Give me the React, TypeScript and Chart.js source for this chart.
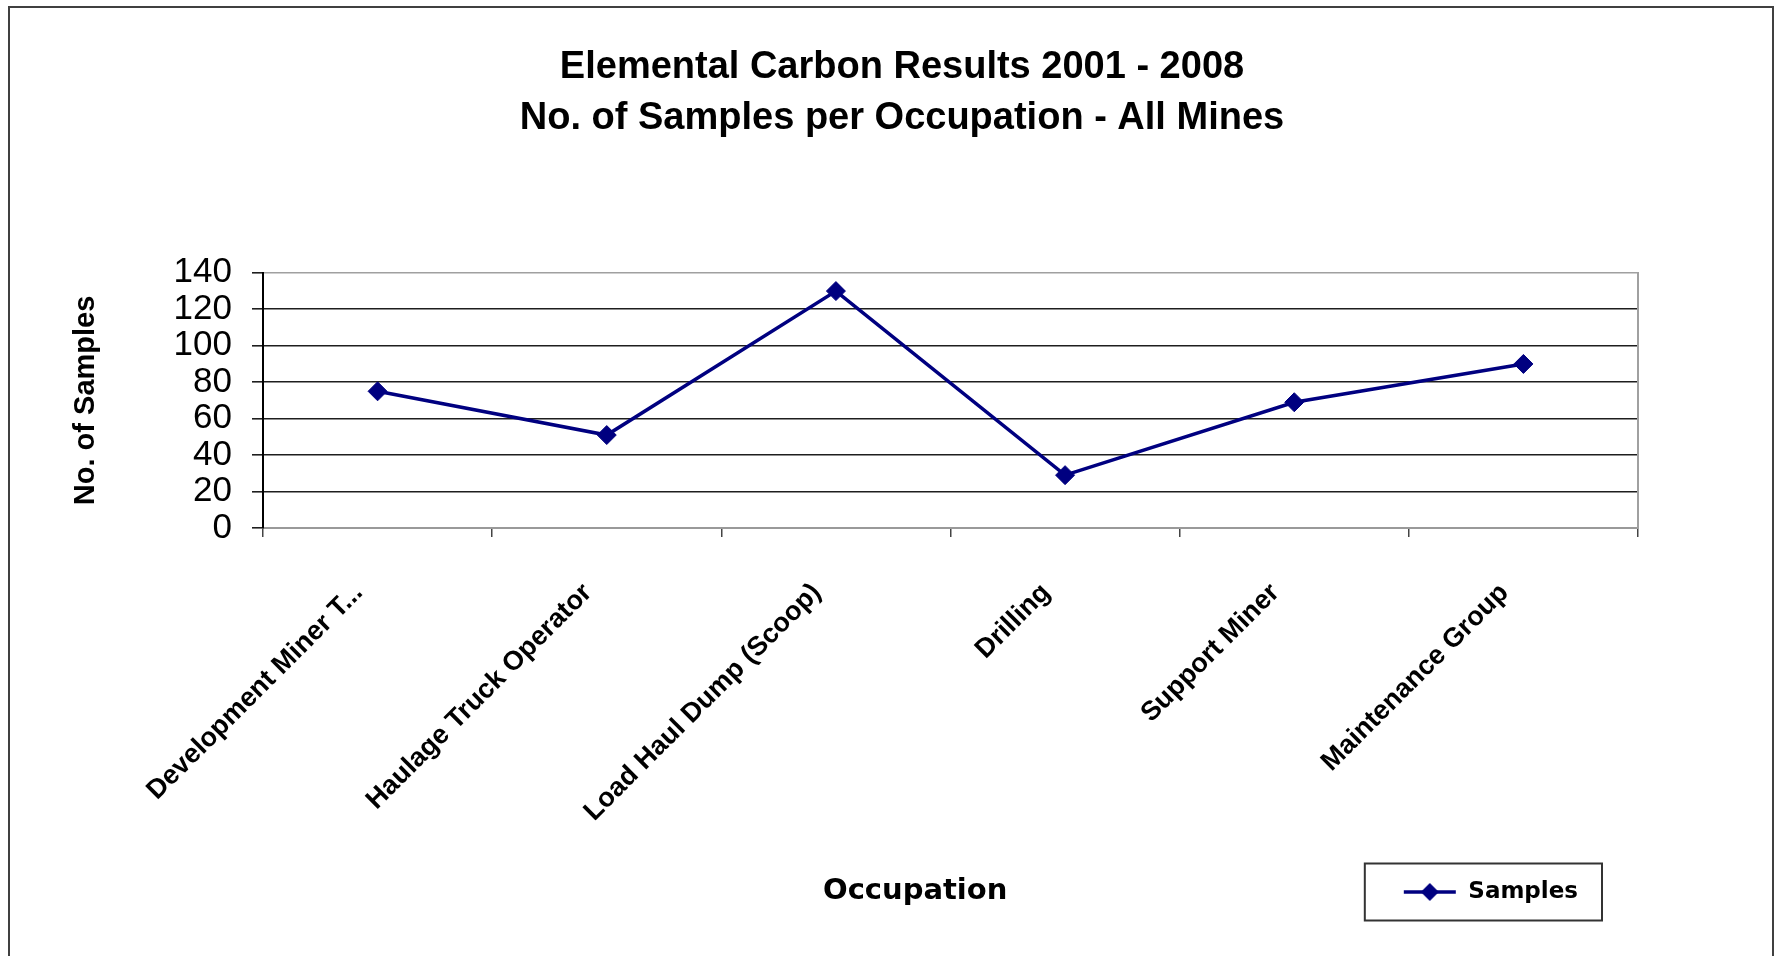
import React, { useEffect, useRef } from 'react';
import { Chart, registerables } from 'chart.js';

Chart.register(...registerables);

const categories = [
  'Development Miner T...',
  'Haulage Truck Operator',
  'Load Haul Dump (Scoop)',
  'Drilling',
  'Support Miner',
  'Maintenance Group',
];
const samples = [75, 51, 130, 29, 69, 90];
const yTickValues = [0, 20, 40, 60, 80, 100, 120, 140];
const titleLines = ['Elemental Carbon Results 2001 - 2008', 'No. of Samples per Occupation - All Mines'];
const seriesName = 'Samples';
const xTitle = 'Occupation';
const yTitle = 'No. of Samples';

const NAVY = '#000080';

function makeLegendMarker(): HTMLCanvasElement {
  const c = document.createElement('canvas');
  c.width = 54;
  c.height = 22;
  const g = c.getContext('2d')!;
  g.strokeStyle = NAVY;
  g.lineWidth = 3.5;
  g.beginPath();
  g.moveTo(1, 11);
  g.lineTo(53, 11);
  g.stroke();
  g.fillStyle = NAVY;
  g.beginPath();
  g.moveTo(27, 2);
  g.lineTo(36, 11);
  g.lineTo(27, 20);
  g.lineTo(18, 11);
  g.closePath();
  g.fill();
  return c;
}

const legendBoxPlugin = {
  id: 'legendBox',
  afterDraw(chart: any) {
    const lg = chart.legend;
    if (!lg || !lg.legendHitBoxes || !lg.legendHitBoxes.length) return;
    const hb = lg.legendHitBoxes[0];
    const ctx = chart.ctx;
    ctx.save();
    ctx.strokeStyle = '#333';
    ctx.lineWidth = 2;
    ctx.strokeRect(hb.left - 38, hb.top - 17, hb.width + 62, hb.height + 34);
    ctx.restore();
  },
};

export default function App() {
  const ref = useRef<HTMLCanvasElement | null>(null);

  useEffect(() => {
    document.body.style.margin = '0';
    document.body.style.overflow = 'hidden';
    const canvas = ref.current!;
    const marker = makeLegendMarker();
    const chart = new Chart(canvas, {
      type: 'line',
      data: {
        labels: categories,
        datasets: [
          {
            label: seriesName,
            data: samples,
            borderColor: NAVY,
            backgroundColor: NAVY,
            borderWidth: 3.5,
            pointStyle: 'rectRot',
            pointRadius: 9.5,
            pointBorderWidth: 1,
            pointBackgroundColor: NAVY,
            pointBorderColor: NAVY,
            tension: 0,
            fill: false,
          },
        ],
      },
      options: {
        responsive: false,
        animation: false,
        layout: { padding: { left: 28, right: 0, top: 0, bottom: 42.5 } },
        plugins: {
          title: {
            display: true,
            text: titleLines,
            color: '#000',
            font: { family: '"Liberation Sans", Arial, sans-serif', size: 38, weight: 'bold', lineHeight: 1.34 },
            padding: { top: 42, bottom: 129 },
          },
          legend: {
            display: true,
            position: 'bottom',
            align: 'end',
            fullSize: false,
            labels: {
              usePointStyle: true,
              pointStyle: marker as any,
              pointStyleWidth: 54,
              padding: 60,
              color: '#000',
              font: { family: '"DejaVu Sans", sans-serif', size: 23, weight: 'bold' },
            },
          },
          tooltip: { enabled: false },
        },
        scales: {
          x: {
            type: 'category',
            offset: true,
            afterFit: (s: any) => {
              s.height = 292.5;
            },
            grid: {
              display: true,
              drawOnChartArea: false,
              offset: true,
              tickLength: 9,
              color: '#444',
              lineWidth: 1.5,
            },
            border: { display: true, color: '#999', width: 2 },
            ticks: {
              autoSkip: false,
              minRotation: 45,
              maxRotation: 45,
              padding: 40,
              labelOffset: -19,
              color: '#000',
              font: { family: '"Liberation Sans", Arial, sans-serif', size: 27, weight: 'bold' },
            },
            title: {
              display: true,
              text: xTitle + '       ',
              color: '#000',
              font: { family: '"DejaVu Sans", sans-serif', size: 29, weight: 'bold', lineHeight: 1.2 },
              padding: { top: 0, bottom: -88 },
            },
          },
          y: {
            type: 'linear',
            position: 'left',
            min: 0,
            max: 140,
            afterFit: (s: any) => {
              s.width = 235;
            },
            afterBuildTicks: (s: any) => {
              s.ticks = yTickValues.map((v) => ({ value: v }));
            },
            grid: {
              color: (c: any) => (c.tick && (c.tick.value === 0 || c.tick.value === 140) ? '#a0a0a0' : '#1e1e1e'),
              lineWidth: 1.6,
              tickColor: '#1e1e1e',
              tickLength: 11,
            },
            border: { display: true, color: '#000', width: 2 },
            ticks: {
              autoSkip: false,
              stepSize: 20,
              padding: 20,
              color: '#000',
              font: { family: '"Liberation Sans", Arial, sans-serif', size: 35, lineHeight: 1 },
            },
            title: {
              display: true,
              text: yTitle,
              color: '#000',
              font: { family: '"Liberation Sans", Arial, sans-serif', size: 29, weight: 'bold', lineHeight: 1.2 },
              padding: { top: 41, bottom: 0 },
            },
          },
          y2: {
            type: 'linear',
            position: 'right',
            min: 0,
            max: 140,
            afterFit: (s: any) => {
              s.width = 138;
            },
            grid: { display: false },
            ticks: { display: false },
            border: { display: true, color: '#a0a0a0', width: 2 },
          },
        },
      },
      plugins: [legendBoxPlugin],
    });
    return () => chart.destroy();
  }, []);

  return (
    <div style={{ position: 'fixed', left: 0, top: 0, width: 1776, height: 956, background: '#fff' }}>
      <canvas ref={ref} width={1776} height={956} style={{ position: 'absolute', left: 0, top: 0, width: 1776, height: 956 }} />
      <div
        style={{
          position: 'absolute',
          left: 8,
          top: 6,
          width: 1766,
          height: 1000,
          boxSizing: 'border-box',
          border: '2px solid #404040',
          pointerEvents: 'none',
        }}
      />
    </div>
  );
}
